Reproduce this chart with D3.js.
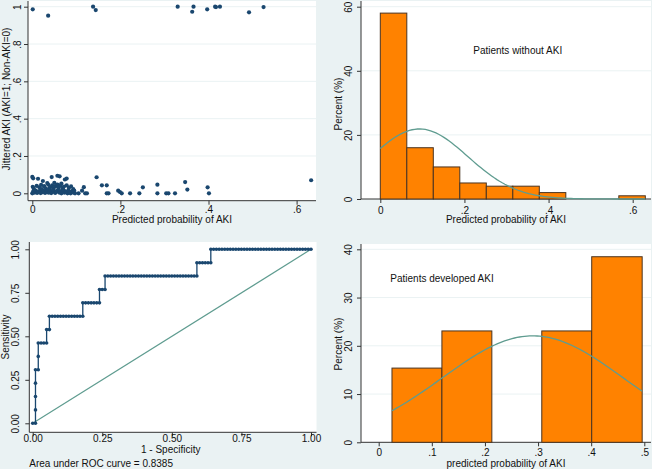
<!DOCTYPE html>
<html>
<head>
<meta charset="utf-8">
<script src="https://cdn.jsdelivr.net/npm/d3@7"></script>
<style>
  body { margin: 0; background: #eaf2f3; }
  svg { display: block; font-family: "Liberation Sans", Arial, sans-serif; }
</style>
</head>
<body>
<svg id="chart" width="652" height="469"></svg>
<script>
// ---- data ----
// scatter: [predicted probability, jittered AKI]
const akiPoints = [
  [0.001, 0.986], [0.036, 0.952], [0.138, 1.0], [0.144, 0.982], [0.33, 1.0],
  [0.363, 0.973], [0.366, 1.0], [0.397, 0.986], [0.415, 1.0], [0.417, 0.998],
  [0.426, 1.0], [0.492, 0.97], [0.525, 0.998]
];
const nonAkiPoints = [
  // upper part of the cluster
  [0.0, 0.088], [0.002, 0.08], [0.013, 0.078], [0.024, 0.066], [0.044, 0.087],
  [0.057, 0.094], [0.062, 0.091], [0.074, 0.074], [0.078, 0.079], [0.034, 0.055],
  [0.05, 0.056], [0.066, 0.052],
  // middle
  [0.001, 0.035], [0.003, 0.028], [0.01, 0.04], [0.016, 0.032], [0.02, 0.045],
  [0.027, 0.038], [0.031, 0.025], [0.036, 0.047], [0.04, 0.033], [0.045, 0.042],
  [0.048, 0.027], [0.053, 0.038], [0.057, 0.046], [0.06, 0.03], [0.064, 0.041],
  [0.069, 0.025], [0.072, 0.036], [0.078, 0.043], [0.083, 0.029], [0.088, 0.037],
  [0.093, 0.022], [0.117, 0.033], [0.022, 0.022], [0.038, 0.02],
  // bottom band
  [0.0, 0.0], [0.002, 0.01], [0.005, 0.004], [0.008, 0.015], [0.011, 0.002],
  [0.014, 0.008], [0.017, 0.013], [0.019, 0.001], [0.023, 0.006], [0.026, 0.012],
  [0.029, 0.002], [0.032, 0.009], [0.035, 0.016], [0.037, 0.003], [0.041, 0.011],
  [0.043, 0.001], [0.046, 0.007], [0.049, 0.014], [0.052, 0.002], [0.055, 0.009],
  [0.058, 0.017], [0.061, 0.004], [0.063, 0.012], [0.066, 0.0], [0.068, 0.008],
  [0.071, 0.015], [0.073, 0.003], [0.076, 0.01], [0.08, 0.0], [0.082, 0.014],
  [0.085, 0.006], [0.087, 0.0], [0.09, 0.011], [0.094, 0.003], [0.097, 0.0],
  [0.105, 0.0], [0.113, 0.014], [0.12, 0.0], [0.124, 0.0], [0.004, 0.018],
  [0.047, 0.019], [0.07, 0.019], [0.095, 0.015],
  // spread to the right
  [0.146, 0.086], [0.158, 0.043], [0.169, 0.043], [0.169, 0.0], [0.173, 0.0],
  [0.195, 0.014], [0.199, 0.007], [0.203, 0.0], [0.222, 0.0], [0.243, 0.0],
  [0.251, 0.032], [0.284, 0.046], [0.284, 0.0], [0.304, 0.0], [0.309, 0.0],
  [0.324, 0.0], [0.347, 0.06], [0.352, 0.02], [0.398, 0.032], [0.401, 0.0],
  [0.633, 0.07]
];

// histograms (percent per bin)
const noAkiBinEdges = [0, 0.063, 0.126, 0.189, 0.252, 0.315, 0.378, 0.441, 0.504, 0.567, 0.63];
const noAkiPercent = [58, 16, 10, 5, 4, 4, 2, 0, 0, 1];
const akiBinEdges = [0.025, 0.119, 0.213, 0.307, 0.401, 0.496];
const akiPercent = [15.38, 23.08, 0, 23.08, 38.46];
// fitted normal densities
const noAkiNormal = { mean: 0.093, sd: 0.115 };
const akiNormal = { mean: 0.29, sd: 0.17 };

// ROC: cumulative counts (false positives of 100 non-AKI, true positives of 13 AKI)
const nNonAki = 100;
const nAki = 13;
const rocFalsePos = [0, 1, 1, 2, 2, 5, 5, 6, 6, 18, 18, 24, 24, 26, 26, 59, 59, 64, 64, 100];
const rocTruePos = [0, 0, 4, 4, 6, 6, 7, 7, 8, 8, 9, 9, 10, 10, 11, 11, 12, 12, 13, 13];
const rocArea = 0.8385;

// ---- styles ----
const navy = "#1a476f";
const orange = "#ff8200";
const teal = "#5f9c90";
const axisColor = "#333";
const gridColor = "#eaf2f3";

const svg = d3.select("#chart");

// plot region + gridlines + axes for one panel
function drawFrame(opt) {
  const g = svg.append("g");
  g.append("rect")
    .attr("x", opt.left).attr("y", opt.top)
    .attr("width", opt.right - opt.left).attr("height", opt.bottom - opt.top)
    .attr("fill", "#fff");

  if (opt.grid) {
    g.selectAll(".grid")
      .data(opt.grid)
      .enter()
      .append("line")
      .attr("x1", opt.left).attr("x2", opt.right)
      .attr("y1", (d) => opt.y(d)).attr("y2", (d) => opt.y(d))
      .attr("stroke", gridColor).attr("stroke-width", 1);
  }

  // x axis
  const xa = g.append("g")
    .attr("transform", `translate(0, ${opt.bottom})`)
    .call(d3.axisBottom(opt.x).tickValues(opt.xTicks).tickFormat(opt.xFormat).tickSize(4).tickSizeOuter(0));
  xa.select(".domain").remove();
  xa.selectAll("text").attr("y", opt.xLabelOffset).attr("dy", null);

  // y axis with vertical labels
  const ya = g.append("g")
    .attr("transform", `translate(${opt.left}, 0)`)
    .call(d3.axisLeft(opt.y).tickValues(opt.yTicks).tickFormat(opt.yFormat).tickSize(4).tickSizeOuter(0));
  ya.select(".domain").remove();
  ya.selectAll("text")
    .attr("x", 0).attr("y", -opt.yLabelOffset).attr("dy", null)
    .attr("text-anchor", "middle")
    .attr("transform", "rotate(-90)");

  [xa, ya].forEach((a) => {
    a.selectAll("line").attr("stroke", axisColor);
    a.selectAll("text").attr("fill", "#111").style("font-size", "10px").style("font-family", "Liberation Sans, Arial, sans-serif");
  });

  g.append("line")
    .attr("x1", opt.left).attr("x2", opt.right)
    .attr("y1", opt.bottom).attr("y2", opt.bottom)
    .attr("stroke", axisColor);
  g.append("line")
    .attr("x1", opt.left).attr("x2", opt.left)
    .attr("y1", opt.top).attr("y2", opt.bottom)
    .attr("stroke", axisColor);

  // titles
  g.append("text")
    .attr("x", opt.xTitleX).attr("y", opt.xTitleY)
    .attr("text-anchor", "middle")
    .style("font-size", "10px").attr("fill", "#111")
    .text(opt.xTitle);
  g.append("text")
    .attr("transform", `translate(${opt.yTitleX}, ${opt.yTitleY}) rotate(-90)`)
    .attr("text-anchor", "middle")
    .style("font-size", "10px").attr("fill", "#111")
    .text(opt.yTitle);
  return g;
}

const decFmt = (d) => (d === 0 ? "0" : d === 1 ? "1" : d3.format(".1f")(d).replace(/^0/, ""));

// ---- panel 1: jittered scatter ----
const x1 = d3.scaleLinear().domain([0, 0.6]).range([32.3, 296.6]);
const y1 = d3.scaleLinear().domain([0, 1]).range([193.3, 6.7]);
const p1 = drawFrame({
  left: 28, right: 316, top: 1, bottom: 200.7,
  x: x1, y: y1,
  xTicks: [0, 0.2, 0.4, 0.6], yTicks: [0, 0.2, 0.4, 0.6, 0.8, 1],
  xFormat: decFmt, yFormat: decFmt,
  grid: [0.2, 0.4, 0.6, 0.8, 1],
  xLabelOffset: 12.8, yLabelOffset: 7.3,
  xTitle: "Predicted probability of AKI", xTitleX: 172, xTitleY: 223,
  yTitle: "Jittered AKI (AKI=1; Non-AKI=0)", yTitleX: 9.5, yTitleY: 99
});
p1.selectAll(".dot")
  .data(nonAkiPoints.concat(akiPoints))
  .enter()
  .append("circle")
  .attr("cx", (d) => x1(d[0]))
  .attr("cy", (d) => y1(d[1]))
  .attr("r", 2.1)
  .attr("fill", navy);

// ---- panel 2: histogram, no AKI ----
const x2 = d3.scaleLinear().domain([0, 0.6]).range([380.3, 632.7]);
const y2 = d3.scaleLinear().domain([0, 60]).range([199, 6.7]);
const p2 = drawFrame({
  left: 361, right: 651, top: 1, bottom: 199,
  x: x2, y: y2,
  xTicks: [0, 0.2, 0.4, 0.6], yTicks: [0, 20, 40, 60],
  xFormat: decFmt, yFormat: d3.format("d"),
  grid: [20, 40, 60],
  xLabelOffset: 14.5, yLabelOffset: 9,
  xTitle: "Predicted probability of AKI", xTitleX: 506, xTitleY: 223,
  yTitle: "Percent (%)", yTitleX: 342, yTitleY: 104
});

function drawHist(g, x, y, edges, percent, normal) {
  const bins = percent.map((p, i) => ({ x0: edges[i], x1: edges[i + 1], p: p })).filter((b) => b.p > 0);
  g.selectAll(".bar")
    .data(bins)
    .enter()
    .append("rect")
    .attr("x", (d) => x(d.x0))
    .attr("y", (d) => y(d.p))
    .attr("width", (d) => x(d.x1) - x(d.x0))
    .attr("height", (d) => y(0) - y(d.p))
    .attr("fill", orange)
    .attr("stroke", "#4a3421")
    .attr("stroke-width", 1);

  const binWidth = edges[1] - edges[0];
  const lo = edges[0];
  const hi = edges[edges.length - 1];
  const xs = d3.range(0, 101).map((i) => lo + ((hi - lo) * i) / 100);
  const dens = (v) => (100 * binWidth * Math.exp(-0.5 * Math.pow((v - normal.mean) / normal.sd, 2))) / (normal.sd * Math.sqrt(2 * Math.PI));
  g.append("path")
    .datum(xs)
    .attr("fill", "none")
    .attr("stroke", teal)
    .attr("stroke-width", 1.3)
    .attr("d", d3.line().x((v) => x(v)).y((v) => y(dens(v))));
}
drawHist(p2, x2, y2, noAkiBinEdges, noAkiPercent, noAkiNormal);
p2.append("text")
  .attr("x", 517.7).attr("y", 54)
  .attr("text-anchor", "middle")
  .style("font-size", "10px").attr("fill", "#111")
  .text("Patients without AKI");

// ---- panel 3: ROC ----
const x3 = d3.scaleLinear().domain([0, 1]).range([32.7, 311]);
const y3 = d3.scaleLinear().domain([0, 1]).range([423.3, 249.3]);
const p3 = drawFrame({
  left: 29.3, right: 316.5, top: 242, bottom: 432.3,
  x: x3, y: y3,
  xTicks: [0, 0.25, 0.5, 0.75, 1], yTicks: [0, 0.25, 0.5, 0.75, 1],
  xFormat: d3.format(".2f"), yFormat: d3.format(".2f"),
  grid: null,
  xLabelOffset: 10, yLabelOffset: 10.3,
  xTitle: "1 - Specificity", xTitleX: 170.7, xTitleY: 452.5,
  yTitle: "Sensitivity", yTitleX: 8.7, yTitleY: 337
});
p3.append("line")
  .attr("x1", x3(0)).attr("y1", y3(0))
  .attr("x2", x3(1)).attr("y2", y3(1))
  .attr("stroke", teal).attr("stroke-width", 1.2);

// every unit step of the cumulative counts is one cutpoint
const rocPoints = [[rocFalsePos[0], rocTruePos[0]]];
for (let i = 1; i < rocFalsePos.length; i++) {
  let fp = rocFalsePos[i - 1];
  let tp = rocTruePos[i - 1];
  while (fp < rocFalsePos[i] || tp < rocTruePos[i]) {
    if (fp < rocFalsePos[i]) fp++;
    else tp++;
    rocPoints.push([fp, tp]);
  }
}
p3.append("path")
  .datum(rocPoints)
  .attr("fill", "none")
  .attr("stroke", navy)
  .attr("stroke-width", 1.3)
  .attr("d", d3.line().x((d) => x3(d[0] / nNonAki)).y((d) => y3(d[1] / nAki)));
p3.selectAll(".roc-dot")
  .data(rocPoints)
  .enter()
  .append("circle")
  .attr("cx", (d) => x3(d[0] / nNonAki))
  .attr("cy", (d) => y3(d[1] / nAki))
  .attr("r", 1.8)
  .attr("fill", navy);
p3.append("text")
  .attr("x", 29.3).attr("y", 467)
  .style("font-size", "10px").attr("fill", "#111")
  .text(`Area under ROC curve = ${rocArea.toFixed(4)}`);

// ---- panel 4: histogram, AKI ----
const x4 = d3.scaleLinear().domain([0, 0.5]).range([378.7, 644.3]);
const y4 = d3.scaleLinear().domain([0, 40]).range([442.3, 249.3]);
const p4 = drawFrame({
  left: 361, right: 651, top: 244, bottom: 442.3,
  x: x4, y: y4,
  xTicks: [0, 0.1, 0.2, 0.3, 0.4, 0.5], yTicks: [0, 10, 20, 30, 40],
  xFormat: decFmt, yFormat: d3.format("d"),
  grid: [10, 20, 30, 40],
  xLabelOffset: 13.3, yLabelOffset: 9,
  xTitle: "predicted probability of AKI", xTitleX: 506, xTitleY: 467,
  yTitle: "Percent (%)", yTitleX: 342, yTitleY: 344
});
drawHist(p4, x4, y4, akiBinEdges, akiPercent, akiNormal);
p4.append("text")
  .attr("x", 442).attr("y", 281.5)
  .attr("text-anchor", "middle")
  .style("font-size", "10px").attr("fill", "#111")
  .text("Patients developed AKI");
</script>
</body>
</html>
